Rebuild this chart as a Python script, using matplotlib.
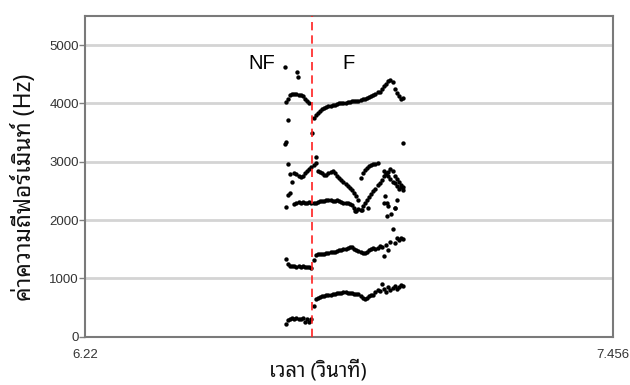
import numpy as np
import matplotlib
matplotlib.use("Agg")
import matplotlib.pyplot as plt
from matplotlib import font_manager
from matplotlib.ft2font import FT2Font

# ---------------- data ----------------
times = [6.690, 6.695, 6.700, 6.705, 6.710, 6.715, 6.720, 6.725, 6.730, 6.735,
         6.740, 6.745, 6.750, 6.755, 6.760, 6.765, 6.770, 6.775, 6.780, 6.785,
         6.790, 6.795, 6.800, 6.805, 6.810, 6.815, 6.820, 6.825, 6.830, 6.835,
         6.840, 6.845, 6.850, 6.855, 6.860, 6.865, 6.870, 6.875, 6.880, 6.885,
         6.890, 6.895, 6.900, 6.905, 6.910, 6.915, 6.920, 6.925, 6.930, 6.935,
         6.940, 6.945, 6.950, 6.955, 6.960, 6.965]
nan = float("nan")
f1 = [218, 290, 310, 320, 300, 320, 310, 300, 320, 250, 310, 260, 300, 520, 640, 670,
      680, 690, 700, 710, 715, 720, 730, 740, 745, 750, 755, 760, 760, 755, 750, 745,
      740, 740, 730, 700, 670, 650, 660, 690, 710, 720, 760, 800, 780, 900, 820, 760,
      850, 800, 840, 870, 820, 860, 880, 870]
f2 = [1330, 1250, 1220, 1210, 1220, 1200, 1210, 1200, 1210, 1200, 1200, 1190, 1170,
      1320, 1400, 1415, 1415, 1420, 1425, 1430, 1440, 1445, 1450, 1460, 1470, 1480,
      1490, 1500, 1510, 1520, 1540, 1530, 1510, 1490, 1470, 1450, 1430, 1440, 1460,
      1480, 1500, 1520, 1510, 1520, 1560, 1530, 1380, 1580, 1480, 1620, 1850, 1600,
      1700, 1650, 1690, 1670]
f3 = [2230, 2430, 2460, nan, 2280, 2300, 2310, 2300, 2310, 2300, 2290, 2310, 2300,
      2290, 2300, 2310, 2320, 2330, 2320, 2340, 2350, 2340, 2330, 2320, 2340, 2330,
      2310, 2300, 2290, 2290, 2270, 2260, 2200, 2160, 2190, 2180, 2250, 2300, 2340,
      2400, 2440, 2500, 2530, 2600, 2640, 2680, 2750, 2800, 2830, 2870, 2850, 2760,
      2700, 2650, 2600, 2560]
f4 = [nan, 2960, 2790, 2650, 2800, 2790, 2750, 2740, 2760, 2800, 2840, 2880, 2910,
      2940, 3090, 2850, 2830, 2800, 2780, 2770, 2800, 2830, 2840, 2800, 2760, 2720,
      2690, 2650, 2620, 2580, 2550, 2520, 2470, 2410, 2350, 2720, 2800, 2860, 2900,
      2930, 2950, 2960, 2970, 2980, nan, nan, 2840, 2790, 2750, 2700, 2650, 2630,
      2580, 2540, 2560, 2520]
f5 = [4030, 4080, 4140, 4160, 4170, 4170, 4150, 4140, 4120, 4080, 4040, 4010, nan,
      3750, 3800, 3840, 3870, 3900, 3920, 3940, 3950, 3960, 3970, 3980, 3990, 4000,
      4000, 4010, 4015, 4020, 4030, 4035, 4040, 4045, 4050, 4060, 4070, 4080, 4090,
      4110, 4130, 4150, 4170, 4190, 4200, 4250, 4300, 4340, 4380, 4400, 4360, 4250,
      4180, 4130, 4080, 4100]
extra_t = [6.688, 6.716, 6.719, 6.695, 6.690, 6.689, 6.751, 6.964, 6.761, 6.852,
           6.868, 6.922, 6.926, 6.930, 6.950, 6.946, 6.926, 6.883, 6.945, 6.921, 6.937]
extra_f = [4630, 4545, 4460, 3720, 3340, 3300, 3500, 3330, 2975, 2150,
           2180, 2410, 2290, 2240, 2350, 2210, 2070, 2200, 2200, 2290, 2100]
boundary_t = 6.751
x_ticks = [6.22, 7.456]
x_tick_labels = ["6.22", "7.456"]
y_ticks = [0, 1000, 2000, 3000, 4000, 5000]
region_labels = ["NF", "F"]
region_label_t = [6.634, 6.838]
region_label_f = 4680
x_label = "เวลา (วินาที)"
y_label = "ค่าความถี่ฟอร์เมินท์ (Hz)"

# ---------------- fonts ----------------
def find_thai_family():
    prefs = ["Noto Sans Thai Looped", "IBM Plex Sans Thai Looped", "Tahoma",
             "Leelawadee UI", "Loma", "Garuda", "Sarabun", "Noto Sans Thai",
             "IBM Plex Sans Thai", "Anuphan"]
    found = []
    for fe in font_manager.fontManager.ttflist:
        try:
            ft = FT2Font(fe.fname)
            cmap = ft.get_charmap()
            if 0x0E04 in cmap and 0x0E27 in cmap:
                found.append(fe.name)
        except Exception:
            pass
    for p in prefs:
        if p in found:
            return p
    return found[0] if found else None

thai_family = find_thai_family()
label_family = [f for f in [thai_family, "DejaVu Sans"] if f]
plt.rcParams["font.family"] = ["Liberation Sans", "DejaVu Sans"]

# ---------------- plot ----------------
fig = plt.figure(figsize=(6.3, 3.85), dpi=100)
ax = fig.add_axes([85 / 630, (385 - 336.7) / 385, 528 / 630, 320.7 / 385])

ax.set_xlim(6.22, 7.456)
ax.set_ylim(0, 5500)

for yv in y_ticks[1:]:
    ax.axhline(yv, color="#d4d4d4", lw=2.0, zorder=1)

ms = 10
for series in (f1, f2, f3, f4, f5):
    ax.scatter(times, series, s=ms, color="black", linewidths=0, zorder=3)
ax.scatter(extra_t, extra_f, s=ms, color="black", linewidths=0, zorder=3)

ax.axvline(boundary_t, color="#ff2020", lw=1.2, ls=(0, (5, 3)), zorder=4)

for lab, tx in zip(region_labels, region_label_t):
    ax.text(tx, region_label_f, lab, fontsize=14.5, ha="center", va="center",
            color="black", family=["Liberation Sans", "DejaVu Sans"])

ax.set_xticks(x_ticks)
ax.set_xticklabels(x_tick_labels)
ax.set_yticks(y_ticks)
ax.tick_params(axis="x", length=0, pad=9, labelsize=9.5, labelcolor="#333333")
ax.tick_params(axis="y", length=4, width=1, color="#808080", pad=0.5,
               labelsize=9.5, labelcolor="#333333")
for sp in ax.spines.values():
    sp.set_color("#7a7a7a")
    sp.set_linewidth(1.5)

fig.text(25 / 630, 1 - 187 / 385, y_label, rotation=90, ha="center", va="center",
         fontsize=16.5, family=label_family, color="#111111")
fig.text(318 / 630, 3 / 385, x_label, ha="center", va="bottom",
         fontsize=14.5, family=label_family, color="#111111")

fig.savefig("out.png", dpi=100)
